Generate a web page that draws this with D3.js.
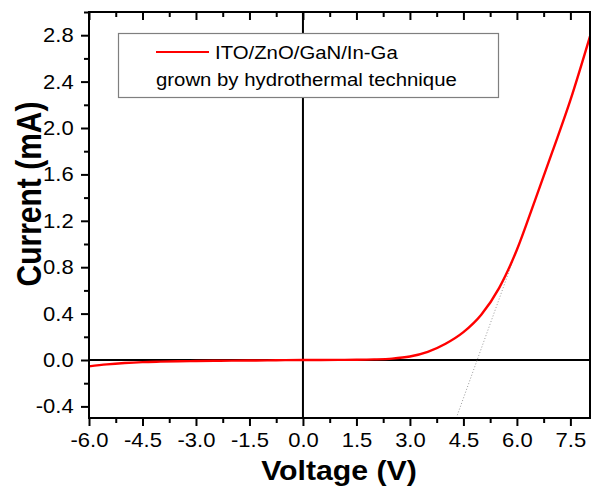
<!DOCTYPE html>
<html>
<head>
<meta charset="utf-8">
<script src="https://cdn.jsdelivr.net/npm/d3@7"></script>
<style>
  html, body { margin: 0; padding: 0; background: #fff; }
  svg { display: block; font-family: "Liberation Sans", Arial, sans-serif; }
</style>
</head>
<body>
<svg id="chart" width="593" height="490"></svg>
<script>
// I–V characteristic of the ITO/ZnO/GaN/In-Ga device
const voltage = [-6, -5.5, -5, -4.5, -4, -3.5, -3, -2.5, -2, -1.5, -1, -0.5, 0,
                 0.5, 1, 1.5, 2, 2.5, 3, 3.5, 4, 4.5, 5, 5.5, 6, 6.5, 7, 7.5, 8.05];
const current = [-0.055, -0.038, -0.026, -0.018, -0.014, -0.011, -0.009, -0.007, -0.005, -0.004, -0.003, -0.001, 0,
                 0, 0.001, 0.002, 0.005, 0.012, 0.03, 0.07, 0.14, 0.24, 0.39, 0.62, 0.95, 1.37, 1.80, 2.24, 2.79];

// linear extrapolation of the forward branch (turn-on voltage)
const fitVoltage = [4.30, 6.90];
const fitCurrent = [-0.5, 1.72];

const xTicks = [-6.0, -4.5, -3.0, -1.5, 0.0, 1.5, 3.0, 4.5, 6.0, 7.5];
const xMinorTicks = [-5.25, -3.75, -2.25, -0.75, 0.75, 2.25, 3.75, 5.25, 6.75];
const yTicks = [-0.4, 0.0, 0.4, 0.8, 1.2, 1.6, 2.0, 2.4, 2.8];
const yMinorTicks = [-0.2, 0.2, 0.6, 1.0, 1.4, 1.8, 2.2, 2.6, 3.0];

const legendLines = ["ITO/ZnO/GaN/In-Ga", "grown by hydrothermal technique"];
const xTitle = "Voltage (V)";
const yTitle = "Current (mA)";

const svg = d3.select("#chart");
const plotLeft = 89, plotRight = 590, plotTop = 12, plotBottom = 418;
const stretch = 1.1;   // slightly wide lettering

const x = d3.scaleLinear().domain([-6, 8.05]).range([plotLeft, plotRight]);
const y = d3.scaleLinear().domain([-0.5, 3.0]).range([plotBottom, plotTop]);

const fmt = d => d.toFixed(1);

// axes
function styleAxis(g) {
  g.selectAll(".domain").remove();
  g.selectAll(".tick line").attr("stroke", "#000").attr("stroke-width", 2);
  g.selectAll("text").attr("fill", "#000").attr("font-size", 20)
    .attr("font-family", "'Liberation Sans', Arial, sans-serif")
    .attr("transform", `scale(${stretch},1)`);
}

const gx = svg.append("g").attr("transform", `translate(0,${plotBottom})`)
  .call(d3.axisBottom(x).tickValues(xTicks).tickFormat(fmt).tickSize(8).tickPadding(7));
styleAxis(gx);
const gxm = svg.append("g").attr("transform", `translate(0,${plotBottom})`)
  .call(d3.axisBottom(x).tickValues(xMinorTicks).tickFormat("").tickSize(5));
styleAxis(gxm);

const gy = svg.append("g").attr("transform", `translate(${plotLeft},0)`)
  .call(d3.axisLeft(y).tickValues(yTicks).tickFormat(fmt).tickSize(8).tickPadding(6));
styleAxis(gy);
const gym = svg.append("g").attr("transform", `translate(${plotLeft},0)`)
  .call(d3.axisLeft(y).tickValues(yMinorTicks).tickFormat("").tickSize(5));
styleAxis(gym);

// top axis, ticks pointing inward
const gt = svg.append("g").attr("transform", `translate(0,${plotTop})`)
  .call(d3.axisBottom(x).tickValues(xTicks).tickFormat("").tickSize(8));
styleAxis(gt);
const gtm = svg.append("g").attr("transform", `translate(0,${plotTop})`)
  .call(d3.axisBottom(x).tickValues(xMinorTicks).tickFormat("").tickSize(5));
styleAxis(gtm);

// zero reference lines
svg.append("line").attr("x1", x(0)).attr("x2", x(0)).attr("y1", plotTop).attr("y2", plotBottom)
  .attr("stroke", "#000").attr("stroke-width", 2);
svg.append("line").attr("x1", plotLeft).attr("x2", plotRight).attr("y1", y(0)).attr("y2", y(0))
  .attr("stroke", "#000").attr("stroke-width", 2);

// extrapolation line
svg.append("path")
  .datum(d3.zip(fitVoltage, fitCurrent))
  .attr("d", d3.line().x(d => x(d[0])).y(d => y(d[1])))
  .attr("fill", "none").attr("stroke", "#9a9a9a").attr("stroke-width", 1)
  .attr("stroke-dasharray", "1,2");

// I–V curve
svg.append("path")
  .datum(d3.zip(voltage, current))
  .attr("d", d3.line().x(d => x(d[0])).y(d => y(d[1])).curve(d3.curveMonotoneX))
  .attr("fill", "none").attr("stroke", "#ff0000").attr("stroke-width", 2.4);

// legend
const lg = svg.append("g");
lg.append("rect").attr("x", 118.5).attr("y", 33.5).attr("width", 380).attr("height", 64)
  .attr("fill", "#fff").attr("stroke", "#7f7f7f").attr("stroke-width", 1.2);
lg.append("line").attr("x1", 156).attr("x2", 209).attr("y1", 52).attr("y2", 52)
  .attr("stroke", "#ff0000").attr("stroke-width", 2);
lg.append("text").attr("transform", `translate(215,59) scale(${stretch},1)`)
  .attr("font-size", 18.5).attr("fill", "#000").text(legendLines[0]);
lg.append("text").attr("transform", `translate(156,86) scale(${stretch},1)`)
  .attr("font-size", 18.5).attr("fill", "#000").text(legendLines[1]);

// frame
svg.append("rect").attr("x", plotLeft).attr("y", plotTop)
  .attr("width", plotRight - plotLeft).attr("height", plotBottom - plotTop)
  .attr("fill", "none").attr("stroke", "#000").attr("stroke-width", 2);

// axis titles
svg.append("text").attr("transform", `translate(339,480) scale(${stretch},1)`)
  .attr("text-anchor", "middle").attr("font-size", 27.5).attr("font-weight", "bold")
  .text(xTitle);
svg.append("text").attr("transform", `translate(41,194) scale(1.15,1) rotate(-90)`)
  .attr("text-anchor", "middle").attr("font-size", 30).attr("font-weight", "bold")
  .text(yTitle);
</script>
</body>
</html>
